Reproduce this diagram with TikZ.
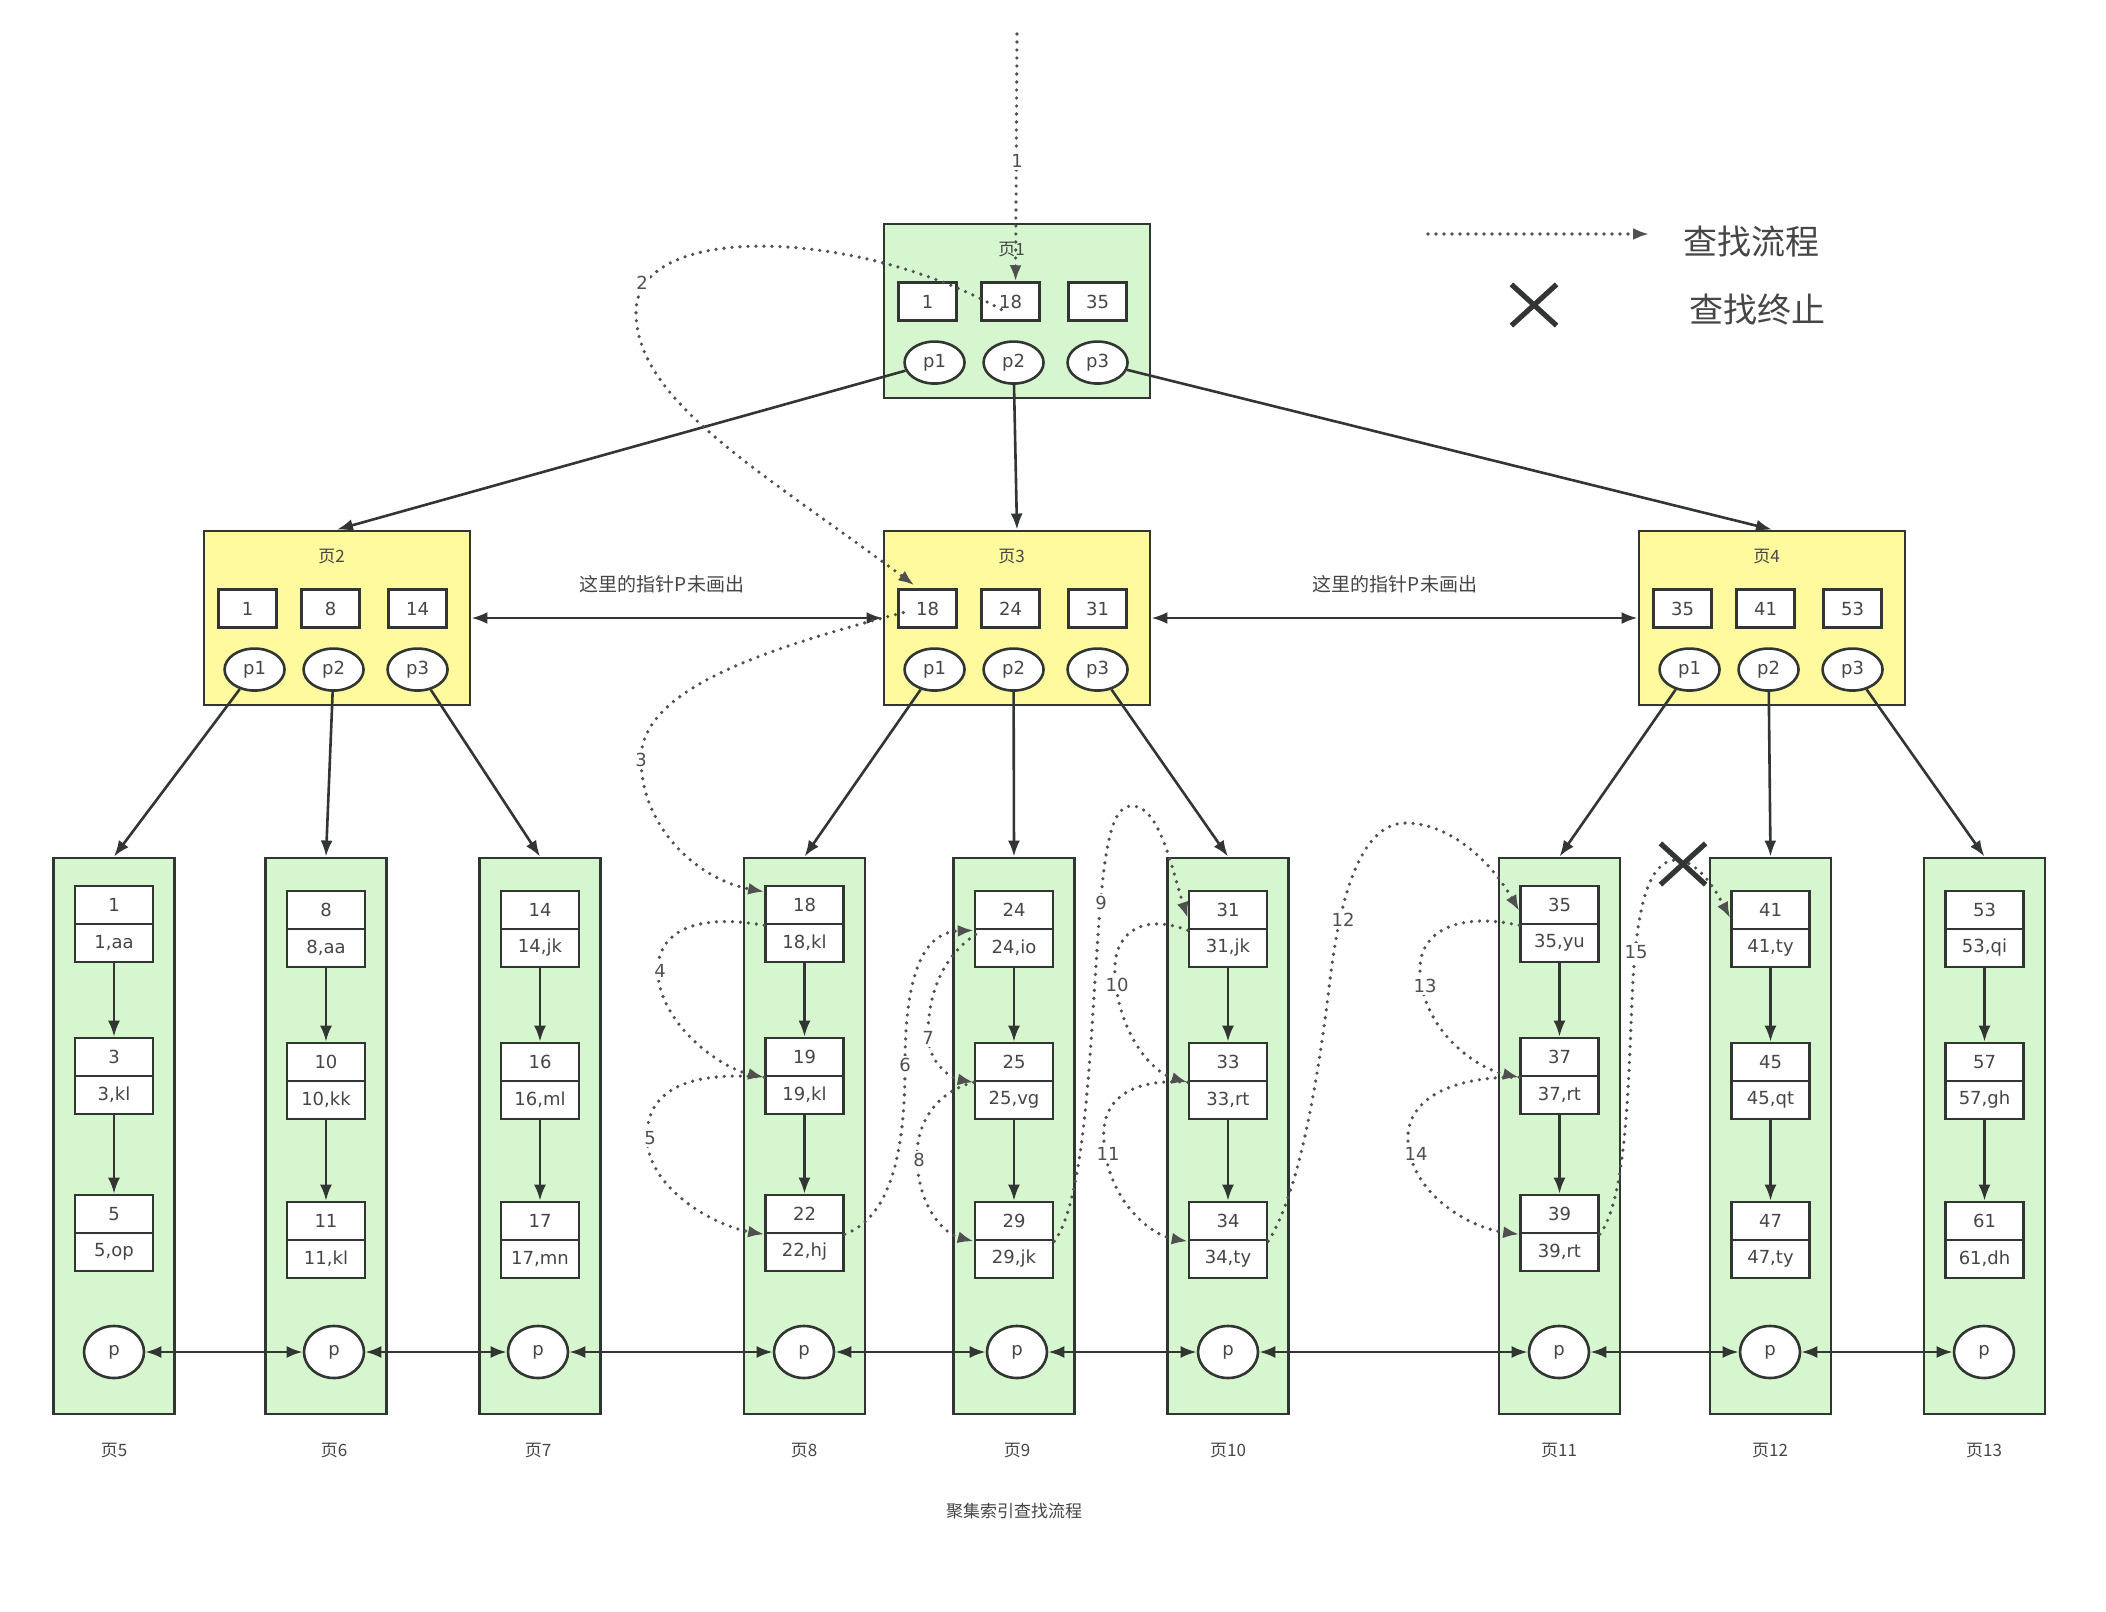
\documentclass[tikz,border=0pt]{standalone}
\usepackage{fontspec}
\setmainfont{DejaVu Sans}
\newfontfamily\cjk{Noto Sans CJK SC}
\usetikzlibrary{arrows.meta,shapes.geometric,shapes.misc,calc}

\definecolor{pagegreen}{RGB}{214,246,208}
\definecolor{pageyellow}{RGB}{255,250,158}
\definecolor{edge}{RGB}{50,54,50}
\definecolor{ink}{RGB}{70,70,70}
\definecolor{trail}{RGB}{80,80,80}

% an upper-level index page: frame, title, three keys, three pointers
\newcommand\upperpage[7]{%
  \node[toppage, fill=#2] (#1) at (#3) {};
  \node[pagetitle] (#1t) at ($(#1.north west)+(129,27)$) {#4};
  \node[keybox] (#1k1) at ($(#1.north west)+(45,79)$) {#5};
  \node[keybox] (#1k2) at ($(#1.north west)+(128,79)$) {#6};
  \node[keybox] (#1k3) at ($(#1.north west)+(215,79)$) {#7};
  \node[ptr] (#1p1) at ($(#1.north west)+(52,140)$) {p1};
  \node[ptr] (#1p2) at ($(#1.north west)+(131,140)$) {p2};
  \node[ptr] (#1p3) at ($(#1.north west)+(215,140)$) {p3};
}
% a leaf page: frame, sibling pointer and caption underneath
\newcommand\leafpage[4]{%
  \node[leafframe] (#1) at (#2,1136) {};
  \node[leafptr] (#1p) at (#3,1352) {p};
  \node[pagetitle] (#1t) at (#3,1451) {#4};
}
% a row record: key on top, key and data below
\newcommand\rowrec[5]{%
  \node[rec] (#1) at (#2,#3-19) {#4};
  \node[rec] (#1d) at (#2,#3+19) {#5};
}

\begin{document}
\begin{tikzpicture}[x=0.5pt,y=-0.5pt,
  boxed/.style={draw=edge, line width=1.3pt, fill=white, text=ink,
    font=\fontsize{9}{10}\selectfont, inner sep=0pt},
  keybox/.style={boxed, minimum width=29pt, minimum height=19pt},
  ptr/.style={boxed, ellipse, minimum width=30pt, minimum height=21pt},
  toppage/.style={draw=edge, line width=1.45pt, minimum width=133pt,
    minimum height=87pt, inner sep=0pt},
  leafframe/.style={draw=edge, line width=1.45pt, fill=pagegreen,
    minimum width=60.5pt, minimum height=278pt, inner sep=0pt},
  rec/.style={boxed, minimum width=39pt, minimum height=19pt},
  leafptr/.style={boxed, ellipse, minimum width=30pt, minimum height=26pt},
  pagetitle/.style={font=\cjk\fontsize{8.5}{10}\selectfont, text=ink, inner sep=1pt},
  note/.style={font=\cjk\fontsize{9.5}{11}\selectfont, text=ink},
  legendtext/.style={font=\cjk\fontsize{17}{20}\selectfont, text=ink},
  link/.style={draw=edge, line width=1.3pt, -{Latex[length=8pt,width=6pt]}},
  twoway/.style={draw=edge, line width=1.3pt,
    {Latex[length=8pt,width=6pt]}-{Latex[length=8pt,width=6pt]}},
  search/.style={draw=trail, line width=1.8pt, dash pattern=on 0pt off 4pt,
    line cap=round, -{Latex[length=8pt,width=6pt]}},
  stepno/.style={fill=white, inner sep=1pt, text=trail,
    font=\fontsize{9}{10}\selectfont},
  stopmark/.style={cross out, draw=edge, line width=2.6pt,
    minimum width=20pt, minimum height=18pt, inner sep=0pt},
]
\fill[white] (0,0) rectangle (2106,1612);
\useasboundingbox (0,0) rectangle (2106,1612);

% ---------- root and second level ----------
\upperpage{pgA}{pagegreen}{1017,311}{页1}{1}{18}{35}
\upperpage{pgB}{pageyellow}{337,618}{页2}{1}{8}{14}
\upperpage{pgC}{pageyellow}{1017,618}{页3}{18}{24}{31}
\upperpage{pgD}{pageyellow}{1772,618}{页4}{35}{41}{53}

% ---------- leaf pages ----------
\leafpage{lf5}{114}{114}{页5}
\leafpage{lf6}{326}{334}{页6}
\leafpage{lf7}{540}{538}{页7}
\leafpage{lf8}{804.5}{804}{页8}
\leafpage{lf9}{1014}{1017}{页9}
\leafpage{lf10}{1228}{1228}{页10}
\leafpage{lf11}{1559.5}{1559}{页11}
\leafpage{lf12}{1770.5}{1770}{页12}
\leafpage{lf13}{1984.5}{1984}{页13}

\rowrec{rec1}{114}{924}{1}{1,aa}
\rowrec{rec3}{114}{1076}{3}{3,kl}
\rowrec{rec5}{114}{1233}{5}{5,op}

\rowrec{rec8}{326}{929}{8}{8,aa}
\rowrec{rec10}{326}{1081}{10}{10,kk}
\rowrec{rec11}{326}{1240}{11}{11,kl}

\rowrec{rec14}{540}{929}{14}{14,jk}
\rowrec{rec16}{540}{1081}{16}{16,ml}
\rowrec{rec17}{540}{1240}{17}{17,mn}

\rowrec{rec18}{804.5}{924}{18}{18,kl}
\rowrec{rec19}{804.5}{1076}{19}{19,kl}
\rowrec{rec22}{804.5}{1233}{22}{22,hj}

\rowrec{rec24}{1014}{929}{24}{24,io}
\rowrec{rec25}{1014}{1081}{25}{25,vg}
\rowrec{rec29}{1014}{1240}{29}{29,jk}

\rowrec{rec31}{1228}{929}{31}{31,jk}
\rowrec{rec33}{1228}{1081}{33}{33,rt}
\rowrec{rec34}{1228}{1240}{34}{34,ty}

\rowrec{rec35}{1559.5}{924}{35}{35,yu}
\rowrec{rec37}{1559.5}{1076}{37}{37,rt}
\rowrec{rec39}{1559.5}{1233}{39}{39,rt}

\rowrec{rec41}{1770.5}{929}{41}{41,ty}
\rowrec{rec45}{1770.5}{1081}{45}{45,qt}
\rowrec{rec47}{1770.5}{1240}{47}{47,ty}

\rowrec{rec53}{1984.5}{929}{53}{53,qi}
\rowrec{rec57}{1984.5}{1081}{57}{57,gh}
\rowrec{rec61}{1984.5}{1240}{61}{61,dh}

% record chains inside each leaf
\foreach \a/\b in {1/3,3/5,8/10,10/11,14/16,16/17,18/19,19/22,24/25,25/29,
                   31/33,33/34,35/37,37/39,41/45,45/47,53/57,57/61}
  \draw[link] (rec\a d) -- (rec\b);

% ---------- tree pointers ----------
\draw[link] (pgAp1) -- (pgB.north);
\draw[link] (pgAp2) -- (pgC.north);
\draw[link] (pgAp3) -- (pgD.north);
\draw[link] (pgBp1) -- (lf5.north);
\draw[link] (pgBp2) -- (lf6.north);
\draw[link] (pgBp3) -- (lf7.north);
\draw[link] (pgCp1) -- (lf8.north);
\draw[link] (pgCp2) -- (lf9.north);
\draw[link] (pgCp3) -- (lf10.north);
\draw[link] (pgDp1) -- (lf11.north);
\draw[link] (pgDp2) -- (lf12.north);
\draw[link] (pgDp3) -- (lf13.north);

% sibling links between index pages (pointer not drawn)
\draw[twoway] (pgB.east) -- (pgC.west);
\draw[twoway] (pgC.east) -- (pgD.west);
\node[note] (noteBC) at (662,584) {这里的指针P未画出};
\node[note] (noteCD) at (1395,584) {这里的指针P未画出};

% doubly linked leaf level
\foreach \a/\b in {5/6,6/7,7/8,8/9,9/10,10/11,11/12,12/13}
  \draw[twoway] (lf\a p) -- (lf\b p);

% ---------- search trail ----------
\coordinate (entry) at (1017,34);
\draw[search] (entry) -- ($(pgAk2.north)+(5,0)$);
\draw[search] ($(pgAk2.west)+(21,8)$) .. controls (860,230) and (640,220) .. (636,310)
  .. controls (634,400) and (760,470) .. ($(pgCk1.north west)+(17,-3)$);
\draw[search] ($(pgCk1.west)+(6,4)$) .. controls (760,650) and (640,690) .. (641,760)
  .. controls (642,830) and (700,880) .. ($(rec18.north west)+(0,7)$);
\draw[search] (rec18.south west) .. controls (690,912) and (655,935) .. (658,975)
  .. controls (662,1025) and (720,1068) .. (rec19.south west);
\draw[search] (rec19.south west) .. controls (680,1070) and (645,1095) .. (647,1140)
  .. controls (650,1190) and (715,1226) .. (rec22.south west);
\draw[search] (rec22.south east) .. controls (895,1215) and (905,1140) .. (905,1065)
  .. controls (905,970) and (925,932) .. (rec24.south west);
\draw[search] ($(rec24.south west)+(2,4)$) .. controls (945,955) and (928,990) .. (928,1035)
  .. controls (928,1062) and (950,1078) .. (rec25.south west);
\draw[search] (rec25.south west) .. controls (935,1092) and (915,1125) .. (917,1162)
  .. controls (920,1210) and (945,1234) .. (rec29.south west);
\draw[search] (rec29.south east) .. controls (1085,1200) and (1090,1050) .. (1097,950)
  .. controls (1104,840) and (1112,806) .. (1132,806)
  .. controls (1160,806) and (1172,870) .. ($(rec31.west)+(0,8)$);
\draw[search] (rec31.south west) .. controls (1140,912) and (1112,935) .. (1115,975)
  .. controls (1118,1030) and (1150,1072) .. (rec33.south west);
\draw[search] (rec33.south west) .. controls (1130,1078) and (1100,1100) .. (1104,1142)
  .. controls (1108,1200) and (1150,1235) .. (rec34.south west);
\draw[search] (rec34.south east) .. controls (1300,1190) and (1318,1080) .. (1330,980)
  .. controls (1343,870) and (1370,822) .. (1407,823)
  .. controls (1450,824) and (1490,860) .. ($(rec35.west)+(0,6)$);
\draw[search] (rec35.south west) .. controls (1460,912) and (1418,930) .. (1420,972)
  .. controls (1423,1030) and (1475,1068) .. (rec37.south west);
\draw[search] (rec37.south west) .. controls (1450,1076) and (1405,1100) .. (1408,1142)
  .. controls (1412,1195) and (1470,1228) .. (rec39.south west);
\draw[search] (rec39.south east) .. controls (1625,1200) and (1628,1100) .. (1632,1000)
  .. controls (1636,900) and (1650,862) .. (1675,860)
  .. controls (1700,860) and (1718,895) .. ($(rec41.west)+(0,8)$);

% step numbers along the trail
\node[stepno] (s1) at (1017,161) {1};
\node[stepno] (s2) at (642,283) {2};
\node[stepno] (s3) at (641,760) {3};
\node[stepno] (s4) at (660,971) {4};
\node[stepno] (s5) at (650,1138) {5};
\node[stepno] (s6) at (905,1065) {6};
\node[stepno] (s7) at (928,1038) {7};
\node[stepno] (s8) at (919,1160) {8};
\node[stepno] (s9) at (1101,903) {9};
\node[stepno] (s10) at (1117,985) {10};
\node[stepno] (s11) at (1108,1154) {11};
\node[stepno] (s12) at (1343,920) {12};
\node[stepno] (s13) at (1425,986) {13};
\node[stepno] (s14) at (1416,1154) {14};
\node[stepno] (s15) at (1636,952) {15};

% the search stops in front of page 12
\node[stopmark] (stopAt12) at (1683,864) {};

% ---------- legend ----------
\coordinate (legFrom) at (1428,234);
\coordinate (legTo) at (1649,234);
\draw[search] (legFrom) -- (legTo);
\node[legendtext] (legFlow) at (1751,242) {查找流程};
\node[stopmark] (legStop) at (1534,305) {};
\node[legendtext] (legEnd) at (1757,310) {查找终止};

% ---------- caption ----------
\node[pagetitle] (caption) at (1014,1511) {聚集索引查找流程};
\end{tikzpicture}
\end{document}
